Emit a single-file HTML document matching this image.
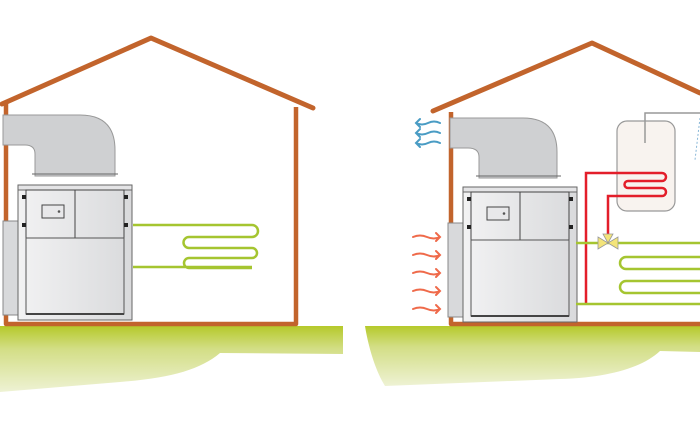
<!DOCTYPE html>
<html><head><style>html,body{margin:0;padding:0;background:#fff}svg{display:block}</style></head><body>
<svg width="700" height="441" viewBox="0 0 700 441" xmlns="http://www.w3.org/2000/svg">
<defs>
<linearGradient id="gr" x1="0" y1="0" x2="0" y2="1"><stop offset="0" stop-color="#b5c92a"/><stop offset="0.35" stop-color="#d3de86"/><stop offset="1" stop-color="#eef2d4"/></linearGradient>
<linearGradient id="un" x1="0" y1="0" x2="1" y2="0"><stop offset="0" stop-color="#f2f2f3"/><stop offset="1" stop-color="#d9dadc"/></linearGradient>
<g id="unit">
<rect x="-15" y="36" width="16" height="94" fill="#d8d9db" stroke="#888" stroke-width="1"/>
<rect x="0" y="0" width="114" height="135" fill="url(#un)" stroke="#666" stroke-width="1"/>
<rect x="0" y="0" width="114" height="5" fill="#e4e4e6" stroke="#666" stroke-width="1"/>
<rect x="8" y="5" width="98" height="48" fill="none" stroke="#444" stroke-width="1"/>
<line x1="57" y1="5" x2="57" y2="53" stroke="#444"/>
<rect x="8" y="53" width="98" height="76" fill="none" stroke="#555" stroke-width="1"/>
<rect x="24" y="20" width="22" height="13" fill="#e8e8ea" stroke="#444"/>
<circle cx="41" cy="26.5" r="1.3" fill="#555"/>
<rect x="4" y="10" width="4" height="4" fill="#222"/><rect x="4" y="38" width="4" height="4" fill="#222"/>
<rect x="106" y="10" width="4" height="4" fill="#222"/><rect x="106" y="38" width="4" height="4" fill="#222"/>
<line x1="8" y1="129" x2="106" y2="129" stroke="#444" stroke-width="2"/>
</g>
</defs>
<!-- ground -->
<path d="M0,326 H343 V354 L220,353 C200,370 170,378 120,382 L0,392 Z" fill="url(#gr)"/>
<path d="M365,326 H700 V352 L660,351 C640,370 600,378 560,379 L385,386 C375,370 368,345 365,326 Z" fill="url(#gr)"/>
<!-- left house -->
<polyline points="2,104 151,38 313,108" fill="none" stroke="#c2642c" stroke-width="5" stroke-linecap="round" stroke-linejoin="round"/>
<polyline points="6,103 6,324 296,324 296,107" fill="none" stroke="#c2642c" stroke-width="4.5" stroke-linejoin="round"/>
<path d="M3,115 H80 Q115,115 115,150 V176 H35 V154 Q35,145 25,145 H3 Z" fill="#cfd0d2" stroke="#999" stroke-width="1"/>
<line x1="32" y1="174" x2="118" y2="174" stroke="#666" stroke-width="1"/>
<use href="#unit" x="18" y="185"/>
<path d="M133,225 H252 a6,6 0 0 1 0,12 H189 a5.5,5.5 0 0 0 0,11 H252 a5,5 0 0 1 0,10 H189 a5,5 0 0 0 0,10 H252 M133,267 H252" fill="none" stroke="#a5c530" stroke-width="2.5"/>
<!-- right house -->
<polyline points="433,111 592,43 700,93" fill="none" stroke="#c2642c" stroke-width="5" stroke-linecap="round" stroke-linejoin="round"/>
<polyline points="451,112 451,324 700,324" fill="none" stroke="#c2642c" stroke-width="4.5" stroke-linejoin="round"/>
<path d="M450,118 H523 Q557,118 557,152 V178 H479 V157 Q479,148 468,148 H450 Z" fill="#cfd0d2" stroke="#999" stroke-width="1"/>
<line x1="476" y1="176" x2="561" y2="176" stroke="#666"/>
<use href="#unit" x="463" y="187"/>
<!-- tank -->
<rect x="617" y="121" width="58" height="90" rx="10" fill="#f8f3ef" stroke="#999" stroke-width="1.2"/>
<polyline points="645,143 645,113 700,113" fill="none" stroke="#999" stroke-width="1.5"/>
<path d="M700,118 L695,160" stroke="#8ab8d8" stroke-width="1" stroke-dasharray="2,2"/>
<!-- red pipes -->
<path d="M586,303 V173 H662 a4,4 0 0 1 0,8 H628 a3.5,3.5 0 0 0 0,7 H662 a4,4 0 0 1 0,8 H608 V235" fill="none" stroke="#e31e2a" stroke-width="2.5"/>
<!-- green -->
<path d="M576,243 H700 M576,304 H700 M700,257 H626 a6,6 0 0 0 0,12 H700 M700,281 H626 a6,6 0 0 0 0,12 H700" fill="none" stroke="#a5c530" stroke-width="2.5"/>
<polygon points="598,237 608,243 598,249" fill="#f3e47a" stroke="#999" stroke-width="0.8"/>
<polygon points="618,237 608,243 618,249" fill="#f3e47a" stroke="#999" stroke-width="0.8"/>
<polygon points="603,234 613,234 608,243" fill="#f3e47a" stroke="#999" stroke-width="0.8"/>
<!-- blue arrows -->
<g fill="none" stroke="#4a9cc4" stroke-width="2" stroke-linecap="round">
<path d="M440,123 q-6,-3 -12,0 t-12,0 M420,119 l-4,4 4,4"/>
<path d="M440,133 q-6,-3 -12,0 t-12,0 M420,129 l-4,4 4,4"/>
<path d="M440,143 q-6,-3 -12,0 t-12,0 M420,139 l-4,4 4,4"/>
</g>
<!-- orange arrows -->
<g fill="none" stroke="#ef6a4a" stroke-width="2" stroke-linecap="round">
<path d="M413,237 q7,-3 14,0 t13,0 M436,233 l4,4 -4,4"/>
<path d="M413,255 q7,-3 14,0 t13,0 M436,251 l4,4 -4,4"/>
<path d="M413,273 q7,-3 14,0 t13,0 M436,269 l4,4 -4,4"/>
<path d="M413,291 q7,-3 14,0 t13,0 M436,287 l4,4 -4,4"/>
<path d="M413,309 q7,-3 14,0 t13,0 M436,305 l4,4 -4,4"/>
</g>
</svg>
</body></html>
